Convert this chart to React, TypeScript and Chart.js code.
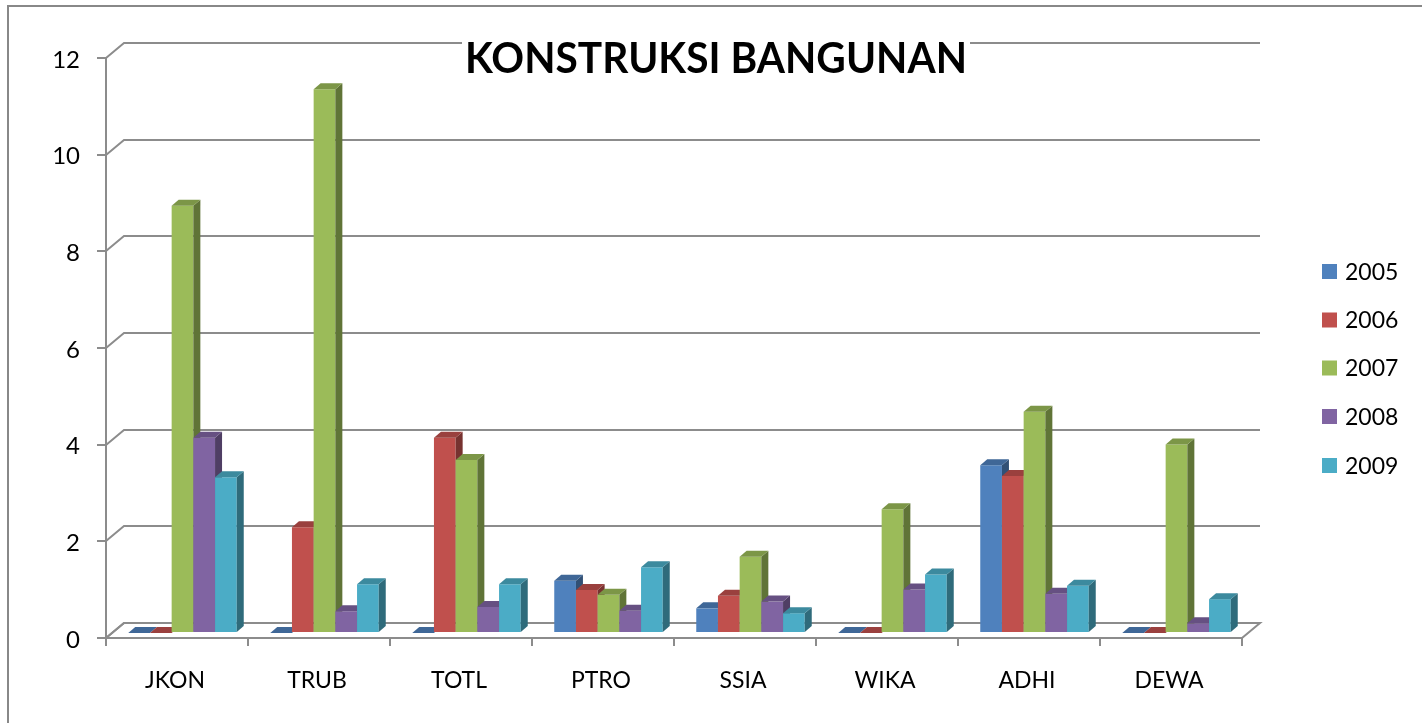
import React, { useEffect, useRef } from 'react';
import { Chart, registerables } from 'chart.js';

Chart.register(...registerables);

// ---- data ----
const categories = ['JKON', 'TRUB', 'TOTL', 'PTRO', 'SSIA', 'WIKA', 'ADHI', 'DEWA'];
const seriesNames = ['2005', '2006', '2007', '2008', '2009'];
const v2005 = [0, 0, 0, 1.08, 0.51, 0, 3.47, 0];
const v2006 = [0, 2.19, 4.04, 0.89, 0.77, 0, 3.25, 0];
const v2007 = [8.84, 11.25, 3.58, 0.79, 1.58, 2.56, 4.58, 3.9];
const v2008 = [4.04, 0.45, 0.54, 0.46, 0.65, 0.9, 0.81, 0.2];
const v2009 = [3.22, 1.01, 1.01, 1.36, 0.41, 1.21, 0.98, 0.7];
const seriesValues = [v2005, v2006, v2007, v2008, v2009];
const seriesColors = ['#4F81BD', '#C0504D', '#9BBB59', '#8064A2', '#4BACC6'];
const yMin = 0;
const yMax = 12;
const yStep = 2;
const titleText = 'KONSTRUKSI BANGUNAN';

// ---- style ----
const FONT = 'Lato, "Open Sans", sans-serif';
const GRID = '#8c8c8c';
const BACK_DX = 18;
const BACK_DY = -15;
const BAR_DX = 5.5;
const BAR_DY = -5;
const DEPTH_DX = 7;
const DEPTH_DY = -6;

function shade(hex: string, f: number): string {
  const n = parseInt(hex.slice(1), 16);
  const r = Math.round(((n >> 16) & 255) * f);
  const g = Math.round(((n >> 8) & 255) * f);
  const b = Math.round((n & 255) * f);
  return `rgb(${r},${g},${b})`;
}

const threeDPlugin = {
  id: 'threeD',
  beforeDatasetsDraw(chart: any) {
    const { ctx, chartArea, scales } = chart;
    const y = scales.y;
    ctx.save();
    // floor
    const fy = y.getPixelForValue(0);
    ctx.beginPath();
    ctx.moveTo(chartArea.left, fy);
    ctx.lineTo(chartArea.right, fy);
    ctx.lineTo(chartArea.right + BACK_DX, fy + BACK_DY);
    ctx.lineTo(chartArea.left + BACK_DX, fy + BACK_DY);
    ctx.closePath();
    ctx.fillStyle = '#ffffff';
    ctx.fill();
    ctx.strokeStyle = GRID;
    ctx.lineWidth = 2;
    ctx.stroke();
    // back wall grid + side wall diagonals
    y.ticks.forEach((t: any) => {
      const py = Math.round(y.getPixelForValue(t.value));
      ctx.beginPath();
      ctx.moveTo(chartArea.left, py);
      ctx.lineTo(chartArea.left + BACK_DX, py + BACK_DY);
      ctx.lineTo(chartArea.right + BACK_DX, py + BACK_DY);
      ctx.stroke();
    });
    // bars, in series order so each bar hides its left neighbour's side
    ctx.translate(BAR_DX, BAR_DY);
    chart.data.datasets.forEach((ds: any, i: number) => {
      const meta = chart.getDatasetMeta(i);
      if (meta.hidden) return;
      const color = seriesColors[i];
      meta.data.forEach((bar: any) => {
        const { x: cx, y: top, base, width } = bar.getProps(['x', 'y', 'base', 'width'], true);
        const l = cx - width / 2;
        const r = cx + width / 2;
        bar.draw(ctx);
        ctx.fillStyle = shade(color, 0.62);
        ctx.beginPath();
        ctx.moveTo(r, top);
        ctx.lineTo(r + DEPTH_DX, top + DEPTH_DY);
        ctx.lineTo(r + DEPTH_DX, base + DEPTH_DY);
        ctx.lineTo(r, base);
        ctx.closePath();
        ctx.fill();
        ctx.fillStyle = shade(color, 0.8);
        ctx.beginPath();
        ctx.moveTo(l, top);
        ctx.lineTo(r, top);
        ctx.lineTo(r + DEPTH_DX, top + DEPTH_DY);
        ctx.lineTo(l + DEPTH_DX, top + DEPTH_DY);
        ctx.closePath();
        ctx.fill();
      });
    });
    ctx.restore();
    return false;
  },
  afterDraw(chart: any) {
    const { ctx } = chart;
    ctx.save();
    // title
    ctx.font = `bold 42px ${FONT}`;
    const w = ctx.measureText(titleText).width;
    const targetW = 502;
    const cx = 716;
    ctx.fillStyle = '#ffffff';
    ctx.fillRect(cx - targetW / 2 - 3, 38, targetW + 6, 40);
    ctx.save();
    ctx.translate(cx, 73);
    ctx.scale(targetW / w, 1);
    ctx.fillStyle = '#000000';
    ctx.textAlign = 'center';
    ctx.textBaseline = 'alphabetic';
    ctx.fillText(titleText, 0, 0);
    ctx.restore();
    // legend
    const legendY = [271.5, 320, 368, 416.5, 465.5];
    ctx.font = `23px ${FONT}`;
    ctx.textAlign = 'left';
    ctx.textBaseline = 'middle';
    chart.data.datasets.forEach((ds: any, i: number) => {
      const cy = legendY[i];
      ctx.fillStyle = seriesColors[i];
      ctx.fillRect(1322, cy - 7.5, 15, 15);
      ctx.fillStyle = '#000000';
      ctx.fillText(ds.label, 1345, cy + 1);
    });
    // outer border
    ctx.strokeStyle = '#888888';
    ctx.lineWidth = 2;
    ctx.beginPath();
    ctx.moveTo(8, 723);
    ctx.lineTo(8, 6);
    ctx.lineTo(1422, 6);
    ctx.stroke();
    ctx.restore();
  },
};

export default function App() {
  const ref = useRef<HTMLCanvasElement>(null);
  useEffect(() => {
    if (!ref.current) return;
    const chart = new Chart(ref.current, {
      type: 'bar',
      data: {
        labels: categories,
        datasets: seriesNames.map((name, i) => ({
          label: name,
          data: seriesValues[i],
          backgroundColor: seriesColors[i],
          borderWidth: 0,
          categoryPercentage: 0.764,
          barPercentage: 1,
        })),
      },
      options: {
        responsive: false,
        animation: false,
        devicePixelRatio: 1,
        layout: { padding: { top: 58, right: 180, bottom: 0, left: 0 } },
        plugins: {
          legend: { display: false },
          title: { display: false },
          tooltip: { enabled: false },
        },
        scales: {
          x: {
            type: 'category',
            grid: {
              display: true,
              offset: true,
              drawOnChartArea: false,
              drawTicks: true,
              tickLength: 8,
              color: GRID,
              lineWidth: 2,
            },
            border: { display: true, color: GRID, width: 2 },
            ticks: {
              font: { family: FONT, size: 23 },
              color: '#000000',
              padding: 21,
              labelOffset: -2,
              maxRotation: 0,
              autoSkip: false,
            },
            afterFit: (s: any) => {
              s.height = 85;
            },
          },
          y: {
            min: yMin,
            max: yMax,
            ticks: {
              stepSize: yStep,
              font: { family: FONT, size: 24 },
              color: '#000000',
              padding: 17,
              labelOffset: 2,
            },
            grid: {
              drawOnChartArea: false,
              drawTicks: true,
              tickLength: 9,
              color: GRID,
              lineWidth: 2,
            },
            border: { display: true, color: GRID, width: 2 },
            afterFit: (s: any) => {
              s.width = 106;
            },
          },
        },
      },
      plugins: [threeDPlugin],
    } as any);
    return () => chart.destroy();
  }, []);
  return (
    <div style={{ position: 'fixed', left: 0, top: 0, width: 1422, height: 723, background: '#ffffff' }}>
      <canvas ref={ref} width={1422} height={723} style={{ display: 'block', width: 1422, height: 723 }} />
    </div>
  );
}
